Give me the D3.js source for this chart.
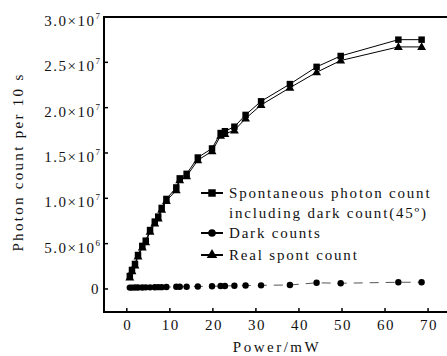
<!DOCTYPE html>
<html>
<head>
<meta charset="utf-8">
<script src="https://cdn.jsdelivr.net/npm/d3@7"></script>
<style>
  body { margin: 0; background: #fff; }
  text { font-family: "Liberation Serif", "Times New Roman", serif; fill: #111; }
</style>
</head>
<body>
<div id="container"></div>
<script>
/* DATA */
const power = [0.7, 1.2, 1.9, 2.6, 3.6, 4.4, 5.4, 6.5, 7.3, 8.1, 9.2, 11.5, 12.3, 13.9, 16.5, 19.8, 21.8, 22.8, 25.0, 27.6, 31.2, 37.9, 44.1, 49.7, 63.1, 68.5]
const spont = [1.43e6, 2.1e6, 2.76e6, 3.75e6, 4.75e6, 5.33e6, 6.5e6, 7.43e6, 7.98e6, 8.94e6, 9.93e6, 1.12e7, 1.22e7, 1.27e7, 1.45e7, 1.55e7, 1.72e7, 1.74e7, 1.79e7, 1.92e7, 2.07e7, 2.26e7, 2.45e7, 2.57e7, 2.75e7, 2.75e7]
const dark = [1.5e5, 1.5e5, 1.6e5, 1.6e5, 1.7e5, 1.8e5, 1.8e5, 1.9e5, 2.0e5, 2.0e5, 2.1e5, 2.4e5, 2.5e5, 2.5e5, 2.8e5, 3.0e5, 3.2e5, 3.3e5, 3.6e5, 3.8e5, 4.0e5, 4.4e5, 6.8e5, 6.3e5, 7.4e5, 7.4e5]
const real = [1.28e6, 1.95e6, 2.6e6, 3.59e6, 4.58e6, 5.15e6, 6.32e6, 7.24e6, 7.78e6, 8.74e6, 9.72e6, 1.09e7, 1.2e7, 1.245e7, 1.42e7, 1.52e7, 1.69e7, 1.71e7, 1.75e7, 1.88e7, 2.03e7, 2.22e7, 2.39e7, 2.52e7, 2.67e7, 2.67e7]

const xTicks = [0, 10, 20, 30, 40, 50, 60, 70]
const yTicks = [0, 5e6, 1e7, 1.5e7, 2e7, 2.5e7, 3e7]
const yTickLabels = [["0", ""], ["5.0\u00d710", "6"], ["1.0\u00d710", "7"], ["1.5\u00d710", "7"], ["2.0\u00d710", "7"], ["2.5\u00d710", "7"], ["3.0\u00d710", "7"]]
const legendLabels = [["Spontaneous photon count", "including dark count(45\u00ba)"], ["Dark counts"], ["Real spont count"]]

/* CONSTANTS AND GLOBALS */
const width = 447
const height = 356
const margin = { left: 104, top: 17, bottom: 312 }

const svg = d3.select("#container")
  .append("svg")
  .attr("width", width)
  .attr("height", height)

/* SCALES */
const xScale = d3.scaleLinear()
  .domain([-5.3, 74.4])
  .range([margin.left, width])

const yScale = d3.scaleLinear()
  .domain([-2.54e6, 3e7])
  .range([margin.bottom, margin.top])

// frame (right side runs off the picture)
svg.append("rect")
  .attr("x", margin.left)
  .attr("y", margin.top)
  .attr("width", width - margin.left + 10)
  .attr("height", margin.bottom - margin.top)
  .attr("fill", "none")
  .attr("stroke", "#000")
  .attr("stroke-width", 2)

/* AXES */
// y ticks, pointing inward
svg.selectAll(".ytick")
  .data(yTicks)
  .join("line")
  .attr("x1", margin.left)
  .attr("x2", margin.left + 4)
  .attr("y1", d => yScale(d))
  .attr("y2", d => yScale(d))
  .attr("stroke", "#000")
  .attr("stroke-width", 1.5)

const yLab = svg.selectAll(".ylab")
  .data(yTicks)
  .join("text")
  .attr("x", margin.left - 4)
  .attr("y", (d, i) => yScale(d) + (i == 0 ? 5.5 : 9))
  .attr("text-anchor", "end")
  .style("font-size", "15px")
  .style("letter-spacing", "1.5px")
yLab.append("tspan").text((d, i) => yTickLabels[i][0])
yLab.append("tspan")
  .attr("dy", -7)
  .style("font-size", "9px")
  .style("letter-spacing", "0px")
  .text((d, i) => yTickLabels[i][1])

// x ticks, pointing inward
svg.selectAll(".xtick")
  .data(xTicks)
  .join("line")
  .attr("x1", d => xScale(d))
  .attr("x2", d => xScale(d))
  .attr("y1", margin.bottom)
  .attr("y2", margin.bottom - 4)
  .attr("stroke", "#000")
  .attr("stroke-width", 1.5)

svg.selectAll(".xlab")
  .data(xTicks)
  .join("text")
  .attr("x", d => xScale(d) + 1)
  .attr("y", 330)
  .attr("text-anchor", "middle")
  .style("font-size", "15px")
  .style("letter-spacing", "1.5px")
  .text(d => d)

// axis titles
svg.append("text")
  .attr("x", 277)
  .attr("y", 352)
  .attr("text-anchor", "middle")
  .style("font-size", "15px")
  .style("letter-spacing", "2.5px")
  .text("Power/mW")

svg.append("text")
  .attr("transform", "translate(23,162) rotate(-90)")
  .attr("text-anchor", "middle")
  .style("font-size", "15px")
  .style("letter-spacing", "2.3px")
  .text("Photon count per 10 s")

/* MARKERS */
const tri = d3.symbol().type(d3.symbolTriangle).size(34)
const sq = d3.symbol().type(d3.symbolSquare).size(42)

function drawSeries(ys, kind, lineStyle) {
  const pts = power.map((p, i) => [xScale(p), yScale(ys[i])])
  svg.append("path")
    .datum(pts)
    .attr("d", d3.line())
    .attr("fill", "none")
    .attr("stroke", lineStyle.color)
    .attr("stroke-width", lineStyle.w)
    .attr("stroke-dasharray", lineStyle.dash)
  if (kind == "circle") {
    svg.selectAll(null)
      .data(pts)
      .join("circle")
      .attr("cx", d => d[0])
      .attr("cy", d => d[1])
      .attr("r", 3.2)
      .attr("fill", "#000")
  } else {
    svg.selectAll(null)
      .data(pts)
      .join("path")
      .attr("d", kind == "square" ? sq : tri)
      .attr("transform", d => `translate(${d[0]},${d[1] + (kind == "square" ? 0 : 0.5)})`)
      .attr("fill", "#000")
  }
}

drawSeries(dark, "circle", { color: "#555", w: 1, dash: "9,7" })
drawSeries(real, "triangle", { color: "#000", w: 1, dash: null })
drawSeries(spont, "square", { color: "#000", w: 1, dash: null })

/* LEGEND */
const legendRows = [
  { y: 193, kind: "square" },
  { y: 233, kind: "circle" },
  { y: 255, kind: "triangle" }
]
legendRows.forEach((r, i) => {
  svg.append("line")
    .attr("x1", 201).attr("x2", 223)
    .attr("y1", r.y).attr("y2", r.y)
    .attr("stroke", "#000")
    .attr("stroke-width", 2)
  if (r.kind == "circle") {
    svg.append("circle").attr("cx", 212).attr("cy", r.y).attr("r", 3.8).attr("fill", "#000")
  } else {
    svg.append("path")
      .attr("d", d3.symbol().type(r.kind == "square" ? d3.symbolSquare : d3.symbolTriangle).size(r.kind == "square" ? 56 : 48))
      .attr("transform", `translate(212,${r.y})`)
      .attr("fill", "#000")
  }
  legendLabels[i].forEach((t, j) => {
    svg.append("text")
      .attr("x", 229)
      .attr("y", r.y + 5 + j * 20)
      .style("font-size", "15px")
      .style("letter-spacing", "1.8px")
      .text(t)
  })
})
</script>
</body>
</html>
